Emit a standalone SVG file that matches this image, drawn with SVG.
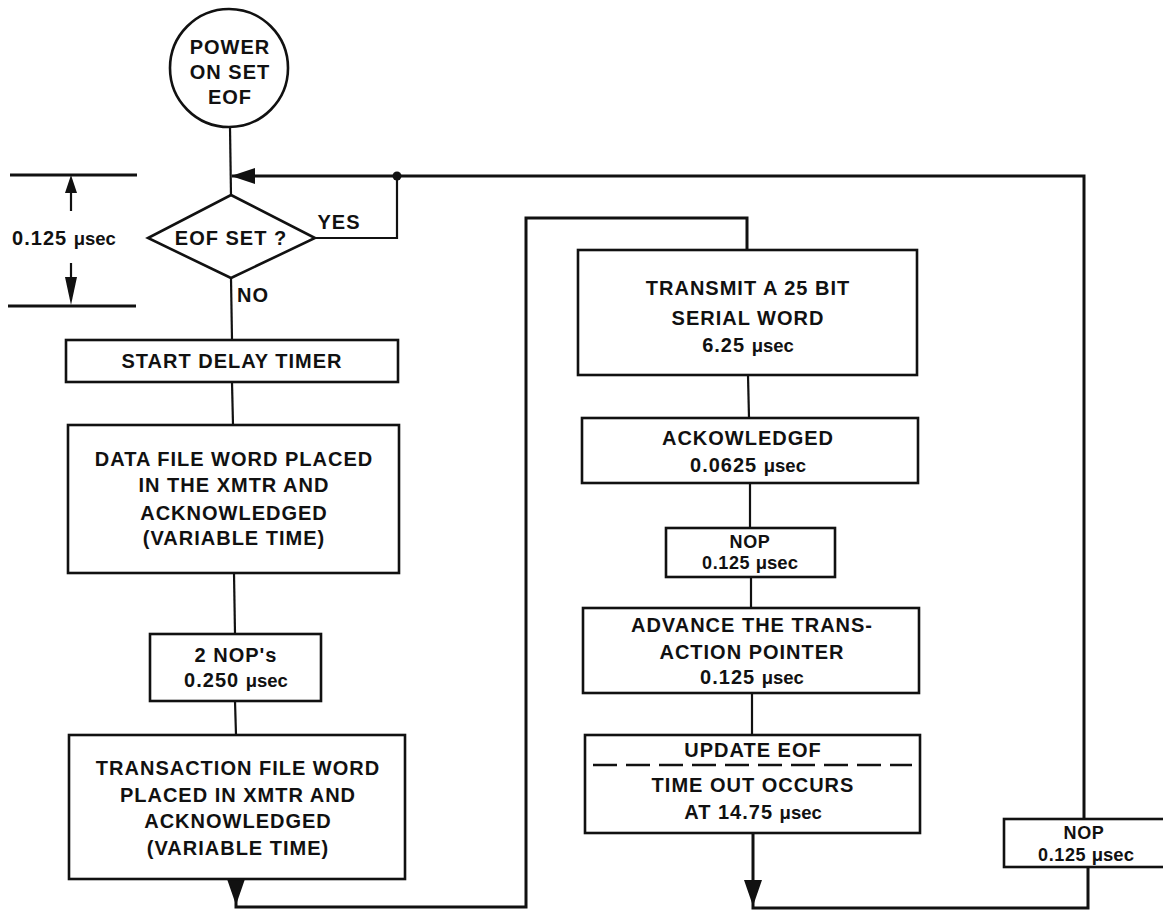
<svg xmlns="http://www.w3.org/2000/svg" width="1163" height="911" viewBox="0 0 1163 911">
<style>
.t{font-family:"Liberation Sans",Arial,sans-serif;font-weight:bold;font-size:20px;letter-spacing:1px;fill:#111;text-anchor:middle}
.s{font-size:18px;letter-spacing:0.6px}
.u{font-size:18.5px;letter-spacing:0px}
.box{fill:#fff;stroke:#111;stroke-width:2.6}
.ln{fill:none;stroke:#111;stroke-width:2.2}
.thick{fill:none;stroke:#111;stroke-width:3}
.ah{fill:#111;stroke:none}
</style>
<rect width="1163" height="911" fill="#fff"/>

<g id="connectors">
  <line class="ln" x1="230" y1="127" x2="231" y2="196"/>
  <polyline class="thick" points="1084,820 1084,176 232,176"/>
  <polygon class="ah" points="231,176 255,168 255,184"/>
  <polyline class="ln" points="315,238 397,238 397,176"/>
  <circle cx="397" cy="176" r="4.5" fill="#111"/>
  <line class="ln" x1="231" y1="278" x2="232" y2="340"/>
  <line class="ln" x1="232" y1="382" x2="233" y2="425"/>
  <line class="ln" x1="234" y1="573" x2="235" y2="634"/>
  <line class="ln" x1="235" y1="701" x2="236" y2="735"/>
  <polyline class="thick" points="236,879 236,907 526,907 526,218 747,218 747,250"/>
  <polygon class="ah" points="227,879 245,879 236,905"/>
  <line class="ln" x1="748" y1="375" x2="749" y2="418"/>
  <line class="ln" x1="750" y1="483" x2="750" y2="528"/>
  <line class="ln" x1="751" y1="577" x2="751" y2="608"/>
  <line class="ln" x1="752" y1="693" x2="752" y2="735"/>
  <polyline class="thick" points="753,833 753,908 1088,908 1088,867"/>
  <polygon class="ah" points="744,880 762,880 753,906"/>
</g>

<g id="dimension">
  <line class="thick" x1="10" y1="175" x2="137" y2="175"/>
  <line class="thick" x1="8" y1="306" x2="136" y2="306"/>
  <line class="ln" x1="71" y1="190" x2="71" y2="211" stroke-width="3"/>
  <polygon class="ah" points="71,175 65,193 77,193"/>
  <line class="ln" x1="71" y1="263" x2="71" y2="290" stroke-width="3"/>
  <polygon class="ah" points="71,305 65,277 77,277"/>
  <text class="t" x="64" y="245">0.125 <tspan class="u">μsec</tspan></text>
</g>

<g id="start">
  <circle class="box" cx="229" cy="68" r="59"/>
  <text class="t" x="230" y="54">POWER</text>
  <text class="t" x="230" y="79">ON SET</text>
  <text class="t" x="230" y="104">EOF</text>
</g>

<g id="decision">
  <polygon class="box" points="231,195 315,238 231,278 148,238"/>
  <text class="t" x="231" y="245">EOF SET ?</text>
  <text class="t" x="339" y="229">YES</text>
  <text class="t" x="253" y="302">NO</text>
</g>

<g id="start-delay">
  <rect class="box" x="66" y="340" width="332" height="42"/>
  <text class="t" x="232" y="368">START DELAY TIMER</text>
</g>

<g id="data-file">
  <rect class="box" x="68" y="425" width="331" height="148"/>
  <text class="t" x="234" y="466">DATA FILE WORD PLACED</text>
  <text class="t" x="234" y="492">IN THE XMTR AND</text>
  <text class="t" x="234" y="520">ACKNOWLEDGED</text>
  <text class="t" x="234" y="545">(VARIABLE TIME)</text>
</g>

<g id="two-nops">
  <rect class="box" x="150" y="634" width="171" height="67"/>
  <text class="t" x="236" y="662">2 NOP's</text>
  <text class="t" x="236" y="687">0.250 <tspan class="u">μsec</tspan></text>
</g>

<g id="transaction-file">
  <rect class="box" x="69" y="735" width="336" height="144"/>
  <text class="t" x="238" y="775">TRANSACTION FILE WORD</text>
  <text class="t" x="238" y="802">PLACED IN XMTR AND</text>
  <text class="t" x="238" y="828">ACKNOWLEDGED</text>
  <text class="t" x="238" y="855">(VARIABLE TIME)</text>
</g>

<g id="transmit">
  <rect class="box" x="578" y="250" width="339" height="125"/>
  <text class="t" x="748" y="295">TRANSMIT A 25 BIT</text>
  <text class="t" x="748" y="325">SERIAL WORD</text>
  <text class="t" x="748" y="352">6.25 <tspan class="u">μsec</tspan></text>
</g>

<g id="acknowledged">
  <rect class="box" x="582" y="418" width="336" height="65"/>
  <text class="t" x="748" y="445">ACKOWLEDGED</text>
  <text class="t" x="748" y="472">0.0625 <tspan class="u">μsec</tspan></text>
</g>

<g id="nop-mid">
  <rect class="box" x="666" y="528" width="169" height="49"/>
  <text class="t s" x="750" y="548">NOP</text>
  <text class="t s" x="750" y="569">0.125 <tspan class="u">μsec</tspan></text>
</g>

<g id="advance">
  <rect class="box" x="583" y="608" width="336" height="85"/>
  <text class="t" x="752" y="632">ADVANCE THE TRANS-</text>
  <text class="t" x="752" y="659">ACTION POINTER</text>
  <text class="t" x="752" y="684">0.125 <tspan class="u">μsec</tspan></text>
</g>

<g id="update-eof">
  <rect class="box" x="585" y="735" width="335" height="98"/>
  <text class="t" x="753" y="757">UPDATE EOF</text>
  <line x1="593" y1="765" x2="912" y2="765" stroke="#111" stroke-width="2.4" stroke-dasharray="24 9"/>
  <text class="t" x="753" y="792">TIME OUT OCCURS</text>
  <text class="t" x="753" y="819">AT 14.75 <tspan class="u">μsec</tspan></text>
</g>

<g id="nop-right">
  <rect class="box" x="1004" y="819" width="170" height="48"/>
  <text class="t s" x="1084" y="839">NOP</text>
  <text class="t s" x="1086" y="861">0.125 <tspan class="u">μsec</tspan></text>
</g>
</svg>
